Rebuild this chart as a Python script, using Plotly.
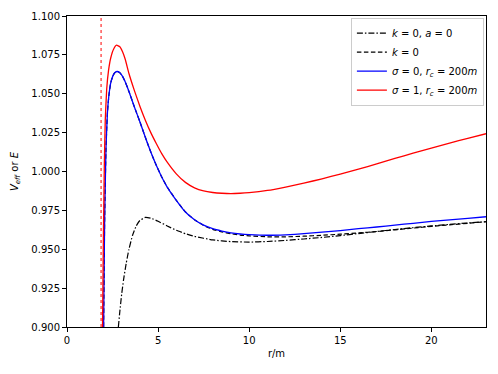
import plotly.graph_objects as go

# k = 0, a = 0 (dash-dot)
r_schw = [2.82, 2.9, 3.0, 3.1, 3.25, 3.4, 3.6, 3.8, 4.0, 4.3, 4.6, 5.0, 5.5, 6.0, 6.5, 7.0,
          8.0, 9.0, 10.0, 11.0, 12.0, 13.0, 14.0, 15.0, 16.0, 17.0, 18.0, 19.0, 20.0, 21.0, 22.0, 23.0]
v_schw = [0.900, 0.910, 0.921, 0.930, 0.941, 0.950, 0.959, 0.965, 0.9685, 0.9705, 0.9700, 0.9680,
          0.9650, 0.9622, 0.9600, 0.9583, 0.9560, 0.9549, 0.9546, 0.9550, 0.9557, 0.9566, 0.9576,
          0.9588, 0.9601, 0.9614, 0.9627, 0.9639, 0.9650, 0.9660, 0.9669, 0.9677]

# sigma = 0, r_c = 200m (blue)
r_s0 = [2.01, 2.04, 2.07, 2.14, 2.22, 2.30, 2.40, 2.52, 2.62, 2.76, 2.90, 3.05, 3.2, 3.4, 3.7,
        4.0, 4.3, 4.6, 4.9, 5.2, 5.5, 6.0, 6.5, 7.0, 7.5, 8.0, 8.5, 9.0, 9.5, 10.0, 11.0, 12.0,
        13.0, 14.0, 15.0, 16.0, 17.0, 18.0, 19.0, 20.0, 21.0, 22.0, 23.0]
v_s0 = [0.900, 0.940, 0.972, 1.015, 1.038, 1.049, 1.057, 1.0615, 1.0635, 1.0643, 1.0635, 1.0612,
        1.0575, 1.0515, 1.0415, 1.0320, 1.0220, 1.0125, 1.0040, 0.9965, 0.9900, 0.9815, 0.9740,
        0.9690, 0.9655, 0.9632, 0.9617, 0.9605, 0.9598, 0.9594, 0.9590, 0.9593, 0.9600, 0.9610,
        0.9620, 0.9632, 0.9643, 0.9655, 0.9667, 0.9679, 0.9689, 0.9699, 0.9709]

# k = 0 (dashed)
r_k0 = r_s0
v_k0 = [0.900, 0.940, 0.972, 1.015, 1.038, 1.049, 1.057, 1.0615, 1.0635, 1.0643, 1.0635, 1.0612,
        1.0575, 1.0515, 1.0415, 1.0320, 1.0220, 1.0125, 1.0040, 0.9965, 0.9900, 0.9815, 0.9740,
        0.9690, 0.9653, 0.9628, 0.9612, 0.9600, 0.9591, 0.9586, 0.9580, 0.9580, 0.9584, 0.9590,
        0.9597, 0.9605, 0.9614, 0.9625, 0.9636, 0.9647, 0.9657, 0.9667, 0.9677]

# sigma = 1, r_c = 200m (red)
r_s1 = [1.95, 2.00, 2.05, 2.10, 2.18, 2.28, 2.40, 2.55, 2.72, 2.90, 3.05, 3.2, 3.4, 3.7, 4.0,
        4.3, 4.6, 4.9, 5.2, 5.5, 6.0, 6.5, 7.0, 7.5, 8.0, 8.5, 9.0, 9.5, 10.0, 11.0, 12.0, 13.0,
        14.0, 15.0, 16.0, 17.0, 18.0, 19.0, 20.0, 21.0, 22.0, 23.0]
v_s1 = [0.900, 0.960, 1.005, 1.033, 1.053, 1.065, 1.073, 1.0785, 1.0812, 1.0802, 1.0770, 1.0720,
        1.0630, 1.0520, 1.0420, 1.0330, 1.0250, 1.0180, 1.0115, 1.0060, 0.9985, 0.9930, 0.9895,
        0.9875, 0.9865, 0.9860, 0.9858, 0.9860, 0.9864, 0.9878, 0.9900, 0.9925, 0.9953, 0.9983,
        1.0015, 1.0049, 1.0084, 1.0118, 1.0151, 1.0183, 1.0213, 1.0243]

r_dotted = 1.87

font = dict(family="DejaVu Sans", size=10, color="black")

fig = go.Figure()
fig.add_trace(go.Scatter(x=r_schw, y=v_schw, mode="lines", name="<i>k</i> = 0, <i>a</i> = 0",
                         line=dict(color="black", width=1.2, dash="6px,2px,1.5px,2px",
                                   shape="spline", smoothing=0.4)))
fig.add_trace(go.Scatter(x=r_k0, y=v_k0, mode="lines", name="<i>k</i> = 0",
                         line=dict(color="black", width=1.2, dash="4.5px,2.5px",
                                   shape="spline", smoothing=0.4)))
fig.add_trace(go.Scatter(x=r_s0, y=v_s0, mode="lines", name="<i>σ</i> = 0, <i>r<sub>c</sub></i> = 200<i>m</i>",
                         line=dict(color="blue", width=1.3, shape="spline", smoothing=0.4)))
fig.add_trace(go.Scatter(x=r_s1, y=v_s1, mode="lines", name="<i>σ</i> = 1, <i>r<sub>c</sub></i> = 200<i>m</i>",
                         line=dict(color="red", width=1.3, shape="spline", smoothing=0.4)))
fig.add_vline(x=r_dotted, line=dict(color="red", width=1, dash="dot"))

axis = dict(showline=True, linecolor="black", linewidth=1, mirror=True, ticks="outside",
            ticklen=4, tickcolor="black", showgrid=False, zeroline=False, tickfont=font,
            automargin=False)
fig.update_xaxes(range=[0, 23], tickvals=[0, 5, 10, 15, 20],
                 title=dict(text="r/m", font=font, standoff=4), **axis)
fig.update_yaxes(range=[0.9, 1.1], tickvals=[0.9, 0.925, 0.95, 0.975, 1.0, 1.025, 1.05, 1.075, 1.1],
                 tickformat=".3f",
                 title=dict(text="<i>V<sub>eff</sub></i> or <i>E</i>", font=font, standoff=10), **axis)
fig.update_layout(
    width=490, height=366,
    margin=dict(l=59, r=12, t=8, b=47),
    plot_bgcolor="white", paper_bgcolor="white",
    font=font,
    legend=dict(x=0.995, y=0.995, xanchor="right", yanchor="top", bgcolor="rgba(255,255,255,0.8)",
                bordercolor="#cccccc", borderwidth=1, font=font, tracegroupgap=0, itemwidth=30),
)
fig.write_html("out.html")
